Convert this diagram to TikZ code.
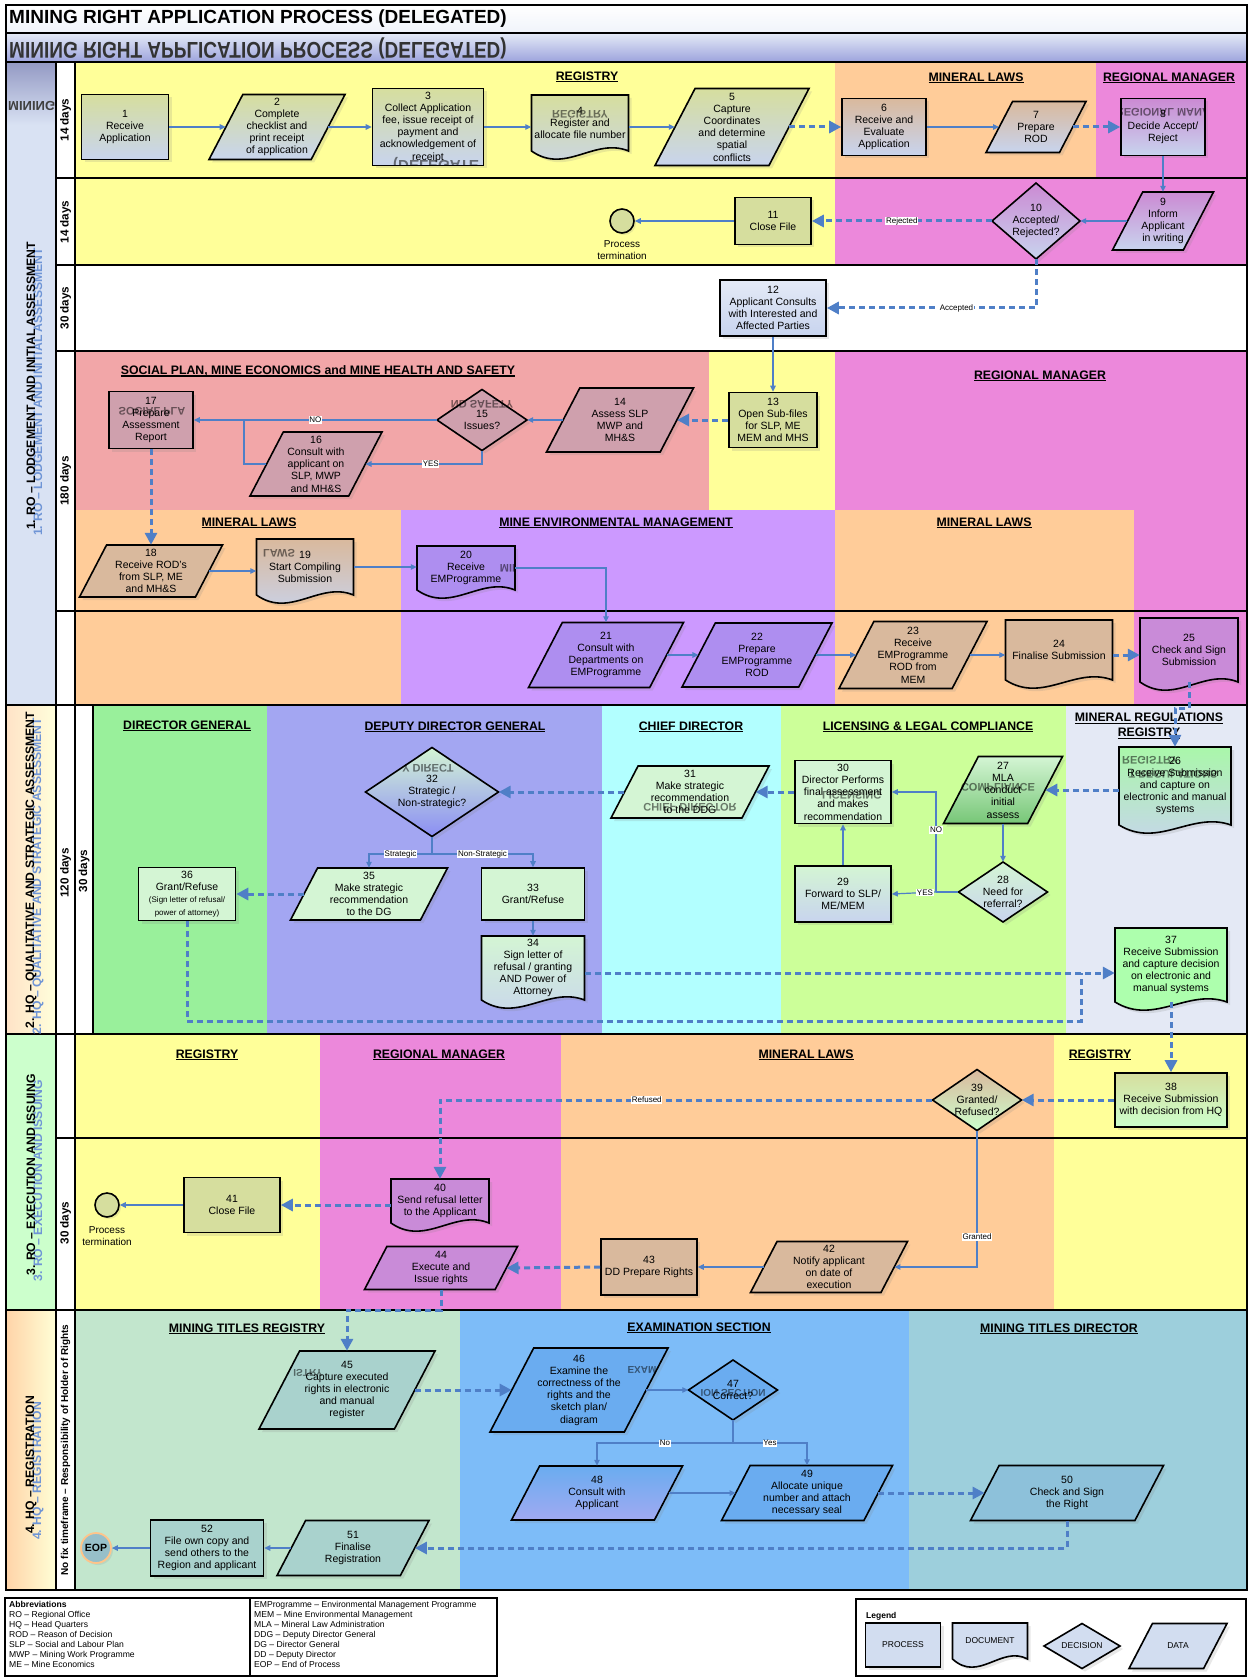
\documentclass[tikz,border=0pt]{standalone}
\usepackage{fontspec}
\setmainfont{Liberation Sans}
\usetikzlibrary{arrows.meta,calc,shadows}
\definecolor{cYel}{HTML}{FFFF99}
\definecolor{cPeach}{HTML}{FFCC99}
\definecolor{cPink}{HTML}{EC88DB}
\definecolor{cSalmon}{HTML}{F2A6A8}
\definecolor{cPurple}{HTML}{CC99FF}
\definecolor{cDG}{HTML}{99F09B}
\definecolor{cDDG}{HTML}{A3A6F2}
\definecolor{cCyan}{HTML}{B2FFFF}
\definecolor{cLic}{HTML}{CCFF99}
\definecolor{cReg}{HTML}{E4E9F5}
\definecolor{cMTR}{HTML}{C2E6CD}
\definecolor{cExam}{HTML}{7DBCF8}
\definecolor{cMTD}{HTML}{9DCFDC}
\definecolor{cPh1}{HTML}{D9E2F3}
\definecolor{cPh3}{HTML}{CCFFCC}
\definecolor{cLine}{HTML}{4F7FC7}
\definecolor{cGhost}{HTML}{6F95D6}
\definecolor{cNYG}{HTML}{D6DE9E}
\definecolor{cNBl}{HTML}{C8D4EE}
\definecolor{cNTan}{HTML}{D9B99D}
\definecolor{cNPk}{HTML}{CB8AD3}
\definecolor{cNMv}{HTML}{CFA0AD}
\definecolor{cNPu}{HTML}{AE8EF0}
\definecolor{cNPk2}{HTML}{C98BD8}
\definecolor{cNLG}{HTML}{D4F5D4}
\definecolor{cNTeal}{HTML}{A9D2CD}
\definecolor{cNBlue}{HTML}{6AACF0}
\definecolor{cNDir}{HTML}{8DC1DA}
\definecolor{cNLeg}{HTML}{D2DDF0}
\newcommand\nodefont{\fontsize{10.5}{12.2}\selectfont}
\newcommand\hdfont{\bfseries\fontsize{12.3}{14.5}\selectfont}
\newcommand\smallnf{\fontsize{8}{9.5}\selectfont}
\newsavebox\hulbox
\newcommand\hul[1]{\sbox\hulbox{#1}\rlap{\rule[-2.3pt]{\wd\hulbox}{1.2pt}}\usebox\hulbox}
% parallelogram: name, cx, cy, w, h, style, text
\newcommand\paran[7]{%
  \path[shp,#6] ({#2-#4/2},{#3+#5/2}) -- ({#2-#4/2+0.52*#5},{#3-#5/2}) -- ({#2+#4/2},{#3-#5/2}) -- ({#2+#4/2-0.52*#5},{#3+#5/2}) -- cycle;
  \node[txt,minimum width={#4-0.52*#5},minimum height=#5] (#1) at (#2,#3) {#7};}
% document
\newcommand\docn[7]{%
  \path[shp,#6] ({#2-#4/2},{#3-#5/2}) -- ({#2+#4/2},{#3-#5/2}) -- ({#2+#4/2},{#3+#5/2}) .. controls ({#2+0.15*#4},{#3+#5/2-14}) and ({#2-0.15*#4},{#3+#5/2+24}) .. ({#2-#4/2},{#3+#5/2}) -- cycle;
  \node[txt,minimum width=#4,minimum height=#5] (#1) at (#2,#3) {#7};}
% diamond
\newcommand\dian[7]{%
  \path[shp,#6] ({#2-#4/2},#3) -- (#2,{#3-#5/2}) -- ({#2+#4/2},#3) -- (#2,{#3+#5/2}) -- cycle;
  \node[txt,minimum width=#4,minimum height=#5] (#1) at (#2,#3) {#7};}
% mirrored ghost text: name, x, y, size, text
\newcommand\ghost[5]{\node[inner sep=0pt,yscale=-1,transform shape,text=black,text opacity=0.5,font=\bfseries\fontsize{#4}{#4}\selectfont] (#1) at (#2,#3) {#5};}
\begin{document}
\begin{tikzpicture}[x=1pt,y=-1pt,
  frame/.style={draw=black,line width=1.6pt},
  shp/.style={draw=black,line width=1.6pt,line join=miter,drop shadow={shadow xshift=3pt,shadow yshift=-3pt,opacity=0.18}},
  txt/.style={align=center,inner sep=0pt,font=\nodefont,text=black},
  rectn/.style={shp,txt,rectangle},
  sarr/.style={draw=cLine,line width=1.2pt,-{Triangle[length=6pt,width=5.5pt]}},
  sln/.style={draw=cLine,line width=1.2pt},
  darr/.style={draw=cLine,line width=3pt,dash pattern=on 6pt off 4pt,-{Triangle[length=12pt,width=12pt]}},
  dln/.style={draw=cLine,line width=3pt,dash pattern=on 6pt off 4pt},
  lbl/.style={font=\fontsize{8}{9}\selectfont,fill=white,inner sep=0.7pt,text=black},
  head/.style={font=\hdfont,align=center,inner sep=0pt},
  days/.style={rotate=90,font=\bfseries\fontsize{11.7}{13}\selectfont,inner sep=0pt},
  phase/.style={rotate=90,font=\bfseries\fontsize{12.2}{14}\selectfont,inner sep=0pt},
  abb/.style={anchor=north west,align=left,inner sep=0pt,font=\fontsize{8.6}{10}\selectfont},
  legt/.style={txt,font=\fontsize{8.5}{10}\selectfont}
]
\useasboundingbox (0,0) rectangle (1252,1677);
\fill[white] (0,0) rectangle (1252,1677);
% ---------- bands and lanes
\shade[top color=white,bottom color=white!60!cPh1] (6,5) rectangle (1247,33);
\shade[top color=cPh1!70!white,bottom color=cPh1!80!blue!90!black] (6,33) rectangle (1247,62);
\fill[cPh1] (6,62) rectangle (56,705);
\shade[top color=cPh1!85!blue!80!black,bottom color=cPh1] (6,62) rectangle (56,125);
\shade[left color=cPeach!55!white,right color=cYel!35!white] (6,705) rectangle (56,1034);
\fill[cPh3] (6,1034) rectangle (56,1310);
\shade[left color=cPeach!85!white,right color=cYel!40!white] (6,1310) rectangle (56,1590);
% phase 1
\fill[cYel] (75,62) rectangle (835,178);
\fill[cPeach] (835,62) rectangle (1096,178);
\fill[cPink] (1096,62) rectangle (1247,178);
\fill[cYel] (75,178) rectangle (835,265);
\fill[cPink] (835,178) rectangle (1247,265);
\fill[cSalmon] (75,351) rectangle (709,510);
\fill[cYel] (709,351) rectangle (835,510);
\fill[cPink] (835,351) rectangle (1247,510);
\fill[cPeach] (75,510) rectangle (401,705);
\fill[cPurple] (401,510) rectangle (835,705);
\fill[cPeach] (835,510) rectangle (1134,705);
\fill[cPink] (1134,510) rectangle (1247,705);
% phase 2
\fill[cDG] (93,705) rectangle (267,1034);
\fill[cDDG] (267,705) rectangle (602,1034);
\fill[cCyan] (602,705) rectangle (781,1034);
\fill[cLic] (781,705) rectangle (1066,1034);
\fill[cReg] (1066,705) rectangle (1247,1034);
% phase 3
\fill[cYel] (75,1034) rectangle (320,1310);
\fill[cPink] (320,1034) rectangle (561,1310);
\fill[cPeach] (561,1034) rectangle (1054,1310);
\fill[cYel] (1054,1034) rectangle (1247,1310);
% phase 4
\fill[cMTR] (75,1310) rectangle (460,1590);
\fill[cExam] (460,1310) rectangle (909,1590);
\fill[cMTD] (909,1310) rectangle (1247,1590);
% ---------- grid lines
\draw[frame] (6,5) rectangle (1247,1590);
\draw[frame] (6,33) -- (1247,33) (6,62) -- (1247,62);
\draw[frame] (6,705) -- (1247,705) (6,1034) -- (1247,1034) (6,1310) -- (1247,1310);
\draw[frame] (56,62) -- (56,1590) (75,62) -- (75,1590) (93,705) -- (93,1034);
\draw[frame] (56,178) -- (1247,178) (56,265) -- (1247,265) (56,351) -- (1247,351) (56,611) -- (1247,611) (56,1138) -- (1247,1138);
% ---------- titles
\node[anchor=west,inner sep=0pt,font=\bfseries\fontsize{19}{22}\selectfont] (title) at (9,19) {MINING RIGHT APPLICATION PROCESS (DELEGATED)};
\node[anchor=west,inner sep=0pt,yscale=-1.2,transform shape,text=black!80,font=\bfseries\fontsize{19}{22}\selectfont] (mirror) at (9,48) {MINING RIGHT APPLICATION PROCESS (DELEGATED)};
\begin{scope}
\clip (7,95) rectangle (55,118);
\node[anchor=west,inner sep=0pt,yscale=-1,transform shape,text=black!75,font=\bfseries\fontsize{13}{15}\selectfont] (ghostmin) at (8,106) {MINING};
\end{scope}
% phase labels
\node[phase,text=cGhost] (p1g) at (38,392) {1. RO – LODGEMENT AND INITIAL ASSESSMENT};
\node[phase] (p1) at (31,386) {1. RO – LODGEMENT AND INITIAL ASSESSMENT};
\node[phase,text=cGhost] (p2g) at (38,876) {2. HQ – QUALITATIVE AND STRATEGIC ASSESSMENT};
\node[phase] (p2) at (31,870) {2. HQ – QUALITATIVE AND STRATEGIC ASSESSMENT};
\node[phase,text=cGhost] (p3g) at (38,1181) {3. RO – EXECUTION AND ISSUING};
\node[phase] (p3) at (31,1175) {3. RO – EXECUTION AND ISSUING};
\node[phase,text=cGhost] (p4g) at (38,1471) {4. HQ – REGISTRATION};
\node[phase] (p4) at (31,1465) {4. HQ – REGISTRATION};
% days
\node[days] (d1) at (65.5,120) {14 days};
\node[days] (d2) at (65.5,222) {14 days};
\node[days] (d3) at (65.5,308) {30 days};
\node[days] (d4) at (65.5,481) {180 days};
\node[days] (d5) at (65.5,873) {120 days};
\node[days] (d6) at (84,871) {30 days};
\node[days] (d7) at (65.5,1223) {30 days};
\node[rotate=90,inner sep=0pt,font=\bfseries\fontsize{10}{12}\selectfont] (d8) at (65.5,1450) {No fix timeframe – Responsibility of Holder of Rights};
% lane headings
\node[head] (h1) at (587,77) {\hul{REGISTRY}};
\node[head] (h2) at (976,78) {\hul{MINERAL LAWS}};
\node[head] (h3) at (1169,78) {\hul{REGIONAL MANAGER}};
\node[head] (h4) at (318,371) {\hul{SOCIAL PLAN, MINE ECONOMICS and MINE HEALTH AND SAFETY}};
\node[head] (h5) at (1040,376) {\hul{REGIONAL MANAGER}};
\node[head] (h6) at (249,523) {\hul{MINERAL LAWS}};
\node[head] (h7) at (616,523) {\hul{MINE ENVIRONMENTAL MANAGEMENT}};
\node[head] (h8) at (984,523) {\hul{MINERAL LAWS}};
\node[head] (h9) at (187,726) {\hul{DIRECTOR GENERAL}};
\node[head] (h10) at (455,727) {\hul{DEPUTY DIRECTOR GENERAL}};
\node[head] (h11) at (691,727) {\hul{CHIEF DIRECTOR}};
\node[head] (h12) at (928,727) {\hul{LICENSING \& LEGAL COMPLIANCE}};
\node[head] (h13) at (1149,726) {\hul{MINERAL REGULATIONS}\\\hul{REGISTRY}};
\node[head] (h14) at (207,1055) {\hul{REGISTRY}};
\node[head] (h15) at (439,1055) {\hul{REGIONAL MANAGER}};
\node[head] (h16) at (806,1055) {\hul{MINERAL LAWS}};
\node[head] (h17) at (1100,1055) {\hul{REGISTRY}};
\node[head] (h18) at (247,1329) {\hul{MINING TITLES REGISTRY}};
\node[head] (h19) at (699,1328) {\hul{EXAMINATION SECTION}};
\node[head] (h20) at (1059,1329) {\hul{MINING TITLES DIRECTOR}};
% ---------- phase 1 nodes
\node[rectn,minimum width=87,minimum height=65,top color=cNYG,bottom color=cNBl] (n1) at (125,127) {1\\Receive\\Application};
\paran{n2}{277}{127}{136}{65}{top color=cNYG,bottom color=cNBl}{2\\Complete\\checklist and\\print receipt\\of application}
\node[rectn,minimum width=111,minimum height=77,top color=cNYG,bottom color=cNBl] (n3) at (428,127) {3\\Collect Application\\fee, issue receipt of\\payment and\\acknowledgement of\\receipt};
\docn{n4}{580}{123}{97}{56}{top color=cNYG,bottom color=cNBl}{4\\Register and\\allocate file number}
\paran{n5}{732}{127}{154}{77}{top color=cNYG,bottom color=cNBl}{5\\Capture\\Coordinates\\and determine\\spatial\\conflicts}
\node[rectn,minimum width=84,minimum height=57,top color=cNTan,bottom color=cNBl] (n6) at (884,127) {6\\Receive and\\Evaluate\\Application};
\paran{n7}{1036}{127}{100}{51}{top color=cNTan,bottom color=cNBl}{7\\Prepare\\ROD}
\node[rectn,minimum width=84,minimum height=57,top color=cNPk,bottom color=cNBl] (n8) at (1163,127) {8\\Decide Accept/\\Reject};
\paran{n9}{1163}{221}{101}{58}{top color=cNPk,bottom color=cNBl}{9\\Inform\\Applicant\\in writing}
\dian{n10}{1036}{221}{88}{76}{top color=cNPk,bottom color=cNBl}{10\\Accepted/\\Rejected?}
\node[rectn,minimum width=76,minimum height=47,fill=cNYG] (n11) at (773,221) {11\\Close File};
\node[circle,draw=black,line width=1.6pt,minimum size=24,inner sep=0pt,fill=cNYG,drop shadow={shadow xshift=2pt,shadow yshift=-2pt,opacity=0.18}] (t1) at (622,221) {};
\node[txt,font=\fontsize{10}{12.5}\selectfont] (t1l) at (622,250) {Process\\termination};
\node[rectn,minimum width=106,minimum height=56,top color=cNBl!50!white,bottom color=cNBl] (n12) at (773,308) {12\\Applicant Consults\\with Interested and\\Affected Parties};
\node[rectn,minimum width=88,minimum height=55,fill=cNYG] (n13) at (773,420) {13\\Open Sub-files\\for SLP, ME\\MEM and MHS};
\paran{n14}{620}{420}{147}{64}{fill=cNMv}{14\\Assess SLP\\MWP and\\MH\&S}
\dian{n15}{482}{420}{90}{61}{fill=cNMv}{15\\Issues?}
\paran{n16}{316}{464}{132}{64}{fill=cNMv}{16\\Consult with\\applicant on\\SLP, MWP\\and MH\&S}
\node[rectn,minimum width=84,minimum height=57,fill=cNMv] (n17) at (151,420) {17\\Prepare\\Assessment\\Report};
\paran{n18}{151}{571}{143}{52}{fill=cNTan}{18\\Receive ROD's\\from SLP, ME\\and MH\&S}
\docn{n19}{305}{567}{97}{56}{top color=cNTan,bottom color=cNBl}{19\\Start Compiling\\Submission}
\docn{n20}{466}{568}{98}{44}{fill=cNPu}{20\\Receive\\EMProgramme}
\paran{n21}{606}{655}{155}{65}{fill=cNPu}{21\\Consult with\\Departments on\\EMProgramme}
\paran{n22}{757}{655}{150}{64}{fill=cNPu}{22\\Prepare\\EMProgramme\\ROD}
\paran{n23}{913}{655}{148}{67}{fill=cNTan}{23\\Receive\\EMProgramme\\ROD from\\MEM}
\docn{n24}{1059}{650}{107}{60}{fill=cNTan}{24\\Finalise Submission}
\docn{n25}{1189}{650}{98}{64}{fill=cNPk2}{25\\Check and Sign\\Submission}
% ---------- phase 2 nodes
\docn{n26}{1175}{786}{112}{78}{top color=cNLG!80!green,bottom color=cNBl}{26\\Receive Submission\\and capture on\\electronic and manual\\systems}
\paran{n27}{1003}{790}{119}{67}{top color=cNLG,bottom color=cNLG!70!green!80!black}{27\\MLA\\conduct\\initial\\assess}
\dian{n28}{1003}{892}{89}{60}{top color=cNLG,bottom color=cNBl}{28\\Need for\\referral?}
\node[rectn,minimum width=96,minimum height=56,top color=cNLG,bottom color=cNBl] (n29) at (843,894) {29\\Forward to SLP/\\ME/MEM};
\node[rectn,minimum width=96,minimum height=63,fill=cNLG] (n30) at (843,792) {30\\Director Performs\\final assessment\\and makes\\recommendation};
\paran{n31}{690}{792}{158}{52}{fill=cNLG}{31\\Make strategic\\recommendation\\to the DDG}
\dian{n32}{432}{792}{133}{89}{top color=cNLG,bottom color=cDDG!85!blue}{32\\Strategic /\\Non-strategic?}
\node[rectn,minimum width=103,minimum height=52,fill=cNLG] (n33) at (533,894) {33\\Grant/Refuse};
\docn{n34}{533}{968}{103}{64}{top color=cNLG,bottom color=cNBl}{34\\Sign letter of\\refusal / granting\\AND Power of\\Attorney}
\paran{n35}{369}{894}{157}{52}{fill=cNLG}{35\\Make strategic\\recommendation\\to the DG}
\node[rectn,minimum width=97,minimum height=53,fill=cNLG] (n36) at (187,894) {36\\Grant/Refuse\\{\smallnf (Sign letter of refusal/}\\{\smallnf power of attorney)}};
\docn{n37}{1171}{965}{112}{74}{fill=cPh3!85!green}{37\\Receive Submission\\and capture decision\\on electronic and\\manual systems}
% ---------- phase 3 nodes
\node[rectn,minimum width=112,minimum height=54,top color=cNYG,bottom color=cPh3] (n38) at (1171,1100) {38\\Receive Submission\\with decision from HQ};
\dian{n39}{977}{1100}{89}{61}{top color=cNTan,bottom color=cPh3}{39\\Granted/\\Refused?}
\docn{n40}{440}{1201}{98}{44}{fill=cNPk2}{40\\Send refusal letter\\to the Applicant}
\node[rectn,minimum width=96,minimum height=55,fill=cNYG] (n41) at (232,1205) {41\\Close File};
\node[circle,draw=black,line width=1.6pt,minimum size=24,inner sep=0pt,fill=cNYG,drop shadow={shadow xshift=2pt,shadow yshift=-2pt,opacity=0.18}] (t2) at (107,1205) {};
\node[txt,font=\fontsize{10}{12.5}\selectfont] (t2l) at (107,1236) {Process\\termination};
\paran{n42}{829}{1267}{157}{51}{fill=cNTan}{42\\Notify applicant\\on date of\\execution}
\node[rectn,minimum width=96,minimum height=56,fill=cNTan] (n43) at (649,1267) {43\\DD Prepare Rights};
\paran{n44}{441}{1268}{153}{43}{fill=cNPk2}{44\\Execute and\\Issue rights}
% ---------- phase 4 nodes
\paran{n45}{347}{1390}{176}{78}{fill=cNTeal}{45\\Capture executed\\rights in electronic\\and manual\\register}
\paran{n46}{579}{1390}{178}{84}{fill=cNBlue}{46\\Examine the\\correctness of the\\rights and the\\sketch plan/\\diagram}
\dian{n47}{733}{1390}{89}{60}{fill=cNBlue}{47\\Correct?}
\paran{n48}{597}{1493}{171}{54}{top color=cNBlue,bottom color=cNBl!80!blue}{48\\Consult with\\Applicant}
\paran{n49}{807}{1493}{171}{55}{fill=cNBlue}{49\\Allocate unique\\number and attach\\necessary seal}
\paran{n50}{1067}{1493}{193}{55}{fill=cNDir}{50\\Check and Sign\\the Right}
\paran{n51}{353}{1548}{152}{55}{fill=cNTeal}{51\\Finalise\\Registration}
\node[rectn,minimum width=113,minimum height=56,fill=cNTeal] (n52) at (207,1548) {52\\File own copy and\\send others to the\\Region and applicant};
\node[circle,draw=cPeach!90!orange,line width=1.8pt,minimum size=30,inner sep=0pt,fill=cMTD!80!gray,font=\bfseries\fontsize{10.5}{12}\selectfont,drop shadow={shadow xshift=2pt,shadow yshift=-2pt,opacity=0.15}] (eop) at (96,1548) {EOP};
% ---------- mirrored ghost texts inside shapes
\begin{scope}\clip (374,89) rectangle (484,166);
\ghost{g3}{436}{164}{15}{(DELEGATE}
\end{scope}
\ghost{g4}{580}{114}{11}{REGISTRY}
\begin{scope}\clip (1121,99) rectangle (1205,156);
\ghost{g8}{1163}{112}{11}{REGIONAL MANA}
\end{scope}
\begin{scope}\clip (447,395) rectangle (517,414);
\ghost{g15}{482}{404}{11}{ND SAFETY}
\end{scope}
\begin{scope}\clip (109,392) rectangle (193,448);
\ghost{g17}{152}{411}{11}{SOCIAL PLA}
\end{scope}
\ghost{g19}{279}{553}{11}{LAWS}
\begin{scope}\clip (417,546) rectangle (515,590);
\ghost{g20}{510}{568}{11}{MIN}
\end{scope}
\begin{scope}\clip (1119,747) rectangle (1231,825);
\ghost{g26a}{1150}{760}{11}{REGISTRY}
\ghost{g26b}{1173}{774}{11}{T REGULATIONS}
\end{scope}
\ghost{g27}{998}{787}{11}{COMPLIANCE}
\ghost{g30}{852}{795}{11}{LICENSING}
\ghost{g31}{690}{807}{11}{CHIEF DIRECTOR}
\ghost{g32}{428}{768}{11}{Y DIRECT}
\ghost{g45}{308}{1373}{10}{ISTRY}
\ghost{g46}{642}{1370}{10}{EXAM}
\ghost{g47}{733}{1393}{10}{ION SECTION}
% ---------- connectors
\draw[sarr] (n1.east) -- (n2.west);
\draw[sarr] (n2.east) -- (n3.west);
\draw[sarr] (n3.east) -- (n3.east -| n4.west);
\draw[sarr] (n4.east |- n5.west) -- (n5.west);
\draw[darr] (n5.east) -- (n6.west);
\draw[sarr] (n6.east) -- (n7.west);
\draw[darr] (n7.east) -- (n8.west);
\draw[sarr] (n8.south) -- (n9.north);
\draw[sarr] (n9.west) -- (n10.east);
\draw[darr] (n10.west) -- node[lbl]{Rejected} (n11.east);
\draw[sarr] (n11.west) -- (t1.east);
\draw[darr] (n10.south) |- node[lbl,pos=0.69]{Accepted} (n12.east);
\draw[sarr] (n12.south) -- (n13.north);
\draw[darr] (n13.west) -- (n14.east);
\draw[sarr] (n14.west) -- (n15.east);
\draw[sarr] (n15.west) -- node[lbl]{NO} (n17.east);
\draw[sarr] (n15.south) |- node[lbl,pos=0.72]{YES} (n16.east);
\coordinate (j16) at (244,420);
\draw[sln] (n16.west) -| (j16);
\draw[darr] (n17.south) -- (n18.north);
\draw[sarr] (n18.east) -- (n18.east -| n19.west);
\draw[sarr] (n19.east) -- (n19.east -| n20.west);
\draw[sarr] (n20.east) -| (n21.north);
\draw[sarr] (n21.east) -- (n22.west);
\draw[sarr] (n22.east) -- (n23.west);
\draw[sarr] (n23.east) -- (n23.east -| n24.west);
\draw[darr] (n24.east |- n23.east) -- (n23.east -| n25.west);
\draw[darr] (n25.south) -- ++(0,26) -| (n26.north);
\draw[darr] (n26.west |- n27.east) -- (n27.east);
\draw[sarr] (n27.south) -- (n28.north);
\coordinate (jNO) at (936,892);
\draw[sln] (n28.west) -- (jNO);
\draw[sarr] (jNO) -- node[lbl,pos=0.25]{YES} (n29.east);
\draw[sarr] (jNO) |- node[lbl,pos=0.31]{NO} (n30.east);
\draw[sarr] (n29.north) -- (n30.south);
\draw[darr] (n30.west) -- (n31.east);
\draw[darr] (n31.west) -- (n32.east);
\coordinate (j32) at (432,854);
\draw[sln] (n32.south) -- (j32);
\draw[sarr] (j32) -| node[lbl,pos=0.25]{Strategic} (n35.north);
\draw[sarr] (j32) -| node[lbl,pos=0.25]{Non-Strategic} (n33.north);
\draw[darr] (n35.west) -- (n36.east);
\draw[sarr] (n33.south) -- (n34.north);
\coordinate (j34) at (585,973);
\coordinate (j36) at (1081,1021);
\draw[dln] (n36.south) |- (j36) -- (j36 |- j34);
\draw[darr] (j34) -- (j34 -| n37.west);
\draw[darr] (n37.south) -- (n38.north);
\draw[darr] (n38.west) -- (n39.east);
\draw[darr] (n39.west) -| node[lbl,pos=0.29]{Refused} (n40.north);
\draw[sarr] (n39.south) |- node[lbl,pos=0.39]{Granted} (n42.east);
\draw[sarr] (n42.west) -- (n43.east);
\draw[darr] (n43.west) -- (n44.east);
\draw[darr] (n40.west |- n41.east) -- (n41.east);
\draw[sarr] (n41.west) -- (t2.east);
\coordinate (j44) at (347,1310);
\draw[darr] (n44.south) |- (j44) -- (n45.north);
\draw[darr] (n45.east) -- (n46.west);
\draw[sarr] (n46.east) -- (n47.west);
\coordinate (j47) at (733,1443);
\draw[sln] (n47.south) -- (j47);
\draw[sarr] (j47) -| node[lbl,pos=0.25]{No} (n48.north);
\draw[sarr] (j47) -| node[lbl,pos=0.25]{Yes} (n49.north);
\draw[sarr] (n48.east) -- (n49.west);
\draw[darr] (n49.east) -- (n50.west);
\draw[darr] (n50.south) |- (n51.east);
\draw[sarr] (n51.west) -- (n52.east);
\draw[sarr] (n52.west) -- (eop.east);
% ---------- abbreviations
\draw[line width=1.4pt] (5,1598) rectangle (497,1676) (250,1598) -- (250,1676);
\node[abb] (ab1) at (9,1601) {\textbf{Abbreviations}\\RO – Regional Office\\HQ – Head Quarters\\ROD – Reason of Decision\\SLP – Social and Labour Plan\\MWP – Mining Work Programme\\ME – Mine Economics};
\node[abb] (ab2) at (254,1601) {EMProgramme – Environmental Management Programme\\MEM – Mine Environmental Management\\MLA – Mineral Law Administration\\DDG – Deputy Director General\\DG – Director General\\DD – Deputy Director\\EOP – End of Process};
% ---------- legend
\draw[line width=1.4pt] (856,1599) rectangle (1246,1676);
\node[anchor=west,inner sep=0pt,font=\bfseries\fontsize{8.5}{10}\selectfont] (legh) at (866,1616) {Legend};
\node[shp,legt,minimum width=75,minimum height=44,fill=cNLeg] (lg1) at (903,1645) {PROCESS};
\docn{lg2}{990}{1641}{75}{36}{fill=cNLeg}{\fontsize{8.5}{10}\selectfont DOCUMENT}
\dian{lg3}{1082}{1646}{76}{45}{fill=cNLeg}{\fontsize{8.5}{10}\selectfont DECISION}
\paran{lg4}{1178}{1646}{98}{45}{fill=cNLeg}{\fontsize{8.5}{10}\selectfont DATA}
\end{tikzpicture}
\end{document}
